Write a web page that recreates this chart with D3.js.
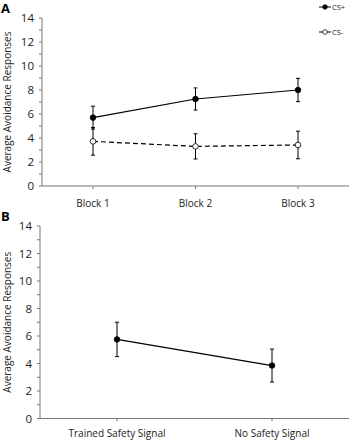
<!DOCTYPE html>
<html>
<head>
<meta charset="utf-8">
<script src="https://cdn.jsdelivr.net/npm/d3@7"></script>
<style>
  body { margin: 0; background: #fff; }
  text { font-family: "Open Sans", sans-serif; fill: #222; }
</style>
</head>
<body>
<div id="chart"></div>
<script>
// Panel A data
const blocks = ["Block 1", "Block 2", "Block 3"];
const csPlus = [5.7, 7.25, 8.0];
const csPlusErr = [0.95, 0.92, 0.97];
const csMinus = [3.72, 3.3, 3.42];
const csMinusErr = [1.15, 1.05, 1.15];

// Panel B data
const signals = ["Trained Safety Signal", "No Safety Signal"];
const signalMean = [5.75, 3.85];
const signalErr = [1.25, 1.2];

const yTicks = [0, 2, 4, 6, 8, 10, 12, 14];

const width = 350, height = 440;
const svg = d3.select("#chart").append("svg")
    .attr("width", width)
    .attr("height", height);

function drawPanel(opts) {
    const g = svg.append("g");
    const x = d3.scalePoint()
        .domain(opts.cats)
        .range([opts.x0 + opts.pad, opts.x1 - opts.pad]);
    const y = d3.scaleLinear()
        .domain([0, 14])
        .range([opts.yb, opts.yt]);

    // y axis with major + minor ticks
    g.append("line")
        .attr("x1", opts.x0).attr("x2", opts.x0)
        .attr("y1", y(0)).attr("y2", y(14))
        .attr("stroke", "#777").attr("stroke-width", 1);
    d3.range(0, 15, 1).forEach(v => {
        g.append("line")
            .attr("x1", opts.x0 - 3).attr("x2", opts.x0)
            .attr("y1", y(v)).attr("y2", y(v))
            .attr("stroke", "#777");
    });
    g.selectAll(".ytl").data(yTicks).enter().append("text")
        .attr("x", opts.x0 - 8)
        .attr("y", d => y(d))
        .attr("dy", "0.36em")
        .attr("text-anchor", "end")
        .attr("font-size", 11.5)
        .text(d => d);

    // x axis
    g.append("line")
        .attr("x1", opts.x0).attr("x2", opts.x1)
        .attr("y1", y(0)).attr("y2", y(0))
        .attr("stroke", "#777");
    opts.cats.forEach(c => {
        g.append("line")
            .attr("x1", x(c)).attr("x2", x(c))
            .attr("y1", y(0)).attr("y2", y(0) + 3)
            .attr("stroke", "#777");
    });
    g.selectAll(".xtl").data(opts.cats).enter().append("text")
        .attr("x", d => x(d))
        .attr("y", opts.labelY)
        .attr("text-anchor", "middle")
        .attr("font-size", 10)
        .text(d => d);

    // y label
    g.append("text")
        .attr("transform", `translate(11,${(y(0) + y(14)) / 2}) rotate(-90)`)
        .attr("text-anchor", "middle")
        .attr("font-size", 10)
        .text("Average Avoidance Responses");

    // panel letter
    g.append("text")
        .attr("x", 1).attr("y", opts.letterY)
        .attr("font-size", 13).attr("font-weight", "bold")
        .style("fill", "#000")
        .text(opts.letter);

    const line = d3.line().x((d, i) => x(opts.cats[i])).y(d => y(d));

    opts.series.forEach(s => {
        g.append("path")
            .datum(s.values)
            .attr("d", line)
            .attr("fill", "none")
            .attr("stroke", "#000")
            .attr("stroke-width", 1.2)
            .attr("stroke-dasharray", s.dash || null);
        s.values.forEach((v, i) => {
            const cx = x(opts.cats[i]);
            const e = s.err[i];
            g.append("line")
                .attr("x1", cx).attr("x2", cx)
                .attr("y1", y(v - e)).attr("y2", y(v + e))
                .attr("stroke", "#000").attr("stroke-width", 1);
            [v - e, v + e].forEach(w => {
                g.append("line")
                    .attr("x1", cx - 2).attr("x2", cx + 2)
                    .attr("y1", y(w)).attr("y2", y(w))
                    .attr("stroke", "#000");
            });
            g.append("circle")
                .attr("cx", cx).attr("cy", y(v)).attr("r", 2.8)
                .attr("fill", s.open ? "#fff" : "#000")
                .attr("stroke", "#000").attr("stroke-width", 0.8);
        });
    });
}

drawPanel({
    cats: blocks, x0: 42, x1: 349, pad: 51, yt: 18, yb: 186,
    labelY: 207, letter: "A", letterY: 13,
    series: [
        { values: csPlus, err: csPlusErr, open: false },
        { values: csMinus, err: csMinusErr, open: true, dash: "5,3" }
    ]
});

drawPanel({
    cats: signals, x0: 40, x1: 349, pad: 77, yt: 226, yb: 418.5,
    labelY: 437, letter: "B", letterY: 221,
    series: [
        { values: signalMean, err: signalErr, open: false }
    ]
});

// legend
const legend = [
    { name: "CS+", open: false, y: 7 },
    { name: "CS-", open: true, y: 32 }
];
legend.forEach(l => {
    svg.append("line")
        .attr("x1", 319).attr("x2", 331)
        .attr("y1", l.y).attr("y2", l.y)
        .attr("stroke", "#000");
    svg.append("circle")
        .attr("cx", 325).attr("cy", l.y).attr("r", 2.3)
        .attr("fill", l.open ? "#fff" : "#000")
        .attr("stroke", "#000").attr("stroke-width", 0.7);
    svg.append("text")
        .attr("x", 332).attr("y", l.y).attr("dy", "0.35em")
        .attr("font-size", 7.5)
        .text(l.name);
});
</script>
</body>
</html>
